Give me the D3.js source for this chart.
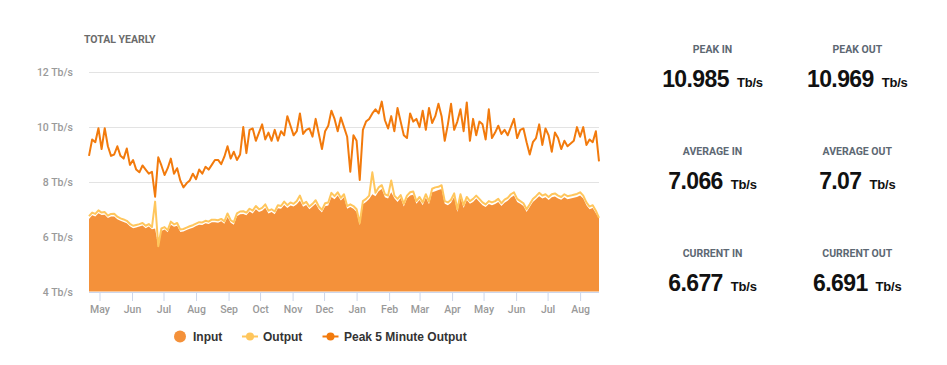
<!DOCTYPE html>
<html><head><meta charset="utf-8">
<script src="https://cdn.jsdelivr.net/npm/d3@7"></script>
<style>body{margin:0;background:#fff}svg{display:block}</style>
</head><body><svg id="c" width="947" height="365"></svg>
<script>
const startDate = "2023-04-21";
const stepDays = 3;
const peakOut = [
8.95,9.55,9.45,9.96,9.2,9.96,9.3,8.95,9.0,9.3,
8.95,8.85,9.22,8.62,8.8,8.45,8.35,8.6,8.45,8.3,
8.37,7.46,8.9,8.6,8.25,8.5,8.85,8.3,8.5,8.05,
7.8,7.95,8.05,8.3,8.1,8.45,8.3,8.55,8.45,8.62,
8.8,8.8,8.65,8.92,9.3,8.85,9.1,8.8,9.0,10.0,
9.05,9.9,9.95,9.5,9.8,10.1,9.55,9.8,9.5,9.9,
9.5,9.85,9.7,10.4,10.05,9.7,9.85,10.5,9.75,9.9,
9.95,9.65,10.3,9.75,9.2,9.85,10.05,10.6,10.3,9.85,
10.35,10.0,9.65,8.37,9.7,9.5,8.07,9.9,10.2,10.3,
10.5,10.65,10.5,10.93,10.25,9.95,10.4,9.85,10.7,10.2,
9.7,9.6,10.5,10.2,10.3,10.0,10.6,9.9,10.7,10.15,
10.4,10.85,10.4,9.5,10.1,10.85,9.9,10.2,10.65,9.85,
10.9,9.5,10.3,9.7,10.2,10.1,9.55,10.65,9.6,9.8,
10.05,9.75,9.9,9.7,10.0,10.3,9.6,9.9,9.95,9.45,
9.0,9.45,9.6,10.1,9.35,9.95,9.7,9.1,9.8,9.6,
9.2,9.5,9.3,9.4,9.5,10.0,9.65,10.0,9.35,9.55,
9.45,9.85,8.75];
const output = [
6.75,6.88,6.83,6.96,6.88,6.90,6.77,6.83,6.84,6.73,
6.67,6.63,6.58,6.47,6.40,6.43,6.46,6.50,6.40,6.46,
6.35,7.28,5.65,6.30,6.35,6.24,6.55,6.45,6.50,6.26,
6.28,6.33,6.38,6.42,6.48,6.53,6.52,6.58,6.55,6.62,
6.62,6.60,6.65,6.56,6.85,6.60,6.53,6.85,6.92,6.93,
6.88,7.02,6.95,7.12,7.00,7.05,7.18,6.95,7.00,6.92,
7.15,7.12,7.28,7.15,7.25,7.20,7.30,7.50,7.20,7.27,
7.10,7.20,7.33,7.10,6.98,7.22,7.25,7.60,7.48,7.62,
7.42,7.55,7.12,7.18,7.12,7.00,6.50,7.30,7.38,7.50,
8.35,7.60,7.80,7.88,7.55,7.50,8.05,7.50,7.38,7.52,
7.20,7.50,7.62,7.65,7.30,7.45,7.25,7.55,7.28,7.75,
7.80,7.82,7.88,7.30,7.25,7.35,7.58,7.00,7.55,7.15,
7.45,7.30,7.38,7.50,7.38,7.25,7.18,7.30,7.25,7.30,
7.38,7.22,7.35,7.42,7.55,7.62,7.38,7.30,7.22,7.00,
7.18,7.38,7.48,7.60,7.50,7.55,7.45,7.55,7.58,7.50,
7.45,7.55,7.48,7.50,7.53,7.56,7.62,7.50,7.25,7.10,
7.15,6.95,6.69];
const input = [
6.65,6.78,6.74,6.86,6.79,6.80,6.68,6.74,6.74,6.64,
6.58,6.54,6.49,6.38,6.31,6.34,6.37,6.41,6.31,6.37,
6.27,6.30,5.62,6.21,6.26,6.16,6.44,6.36,6.40,6.17,
6.19,6.24,6.29,6.33,6.39,6.44,6.43,6.49,6.46,6.53,
6.53,6.51,6.56,6.47,6.72,6.51,6.44,6.75,6.82,6.83,
6.78,6.92,6.85,7.00,6.90,6.95,7.06,6.85,6.90,6.82,
7.04,7.02,7.16,7.05,7.14,7.10,7.18,7.32,7.09,7.16,
7.00,7.10,7.20,7.00,6.88,7.11,7.14,7.45,7.37,7.50,
7.32,7.44,7.02,7.08,7.02,6.90,6.42,7.18,7.27,7.38,
7.55,7.48,7.66,7.74,7.44,7.39,7.62,7.40,7.27,7.41,
7.10,7.39,7.50,7.53,7.20,7.34,7.15,7.43,7.18,7.62,
7.66,7.70,7.74,7.20,7.15,7.24,7.46,6.90,7.43,7.05,
7.34,7.20,7.27,7.39,7.27,7.15,7.08,7.19,7.15,7.19,
7.27,7.12,7.24,7.31,7.43,7.50,7.27,7.20,7.12,6.90,
7.08,7.27,7.37,7.48,7.39,7.44,7.34,7.44,7.47,7.39,
7.35,7.44,7.37,7.39,7.42,7.45,7.50,7.39,7.15,7.00,
7.05,6.86,6.68];
const yTicks = [4, 6, 8, 10, 12];
const monthTicks = ["2023-05-01","2023-06-01","2023-07-01","2023-08-01","2023-09-01","2023-10-01","2023-11-01","2023-12-01","2024-01-01","2024-02-01","2024-03-01","2024-04-01","2024-05-01","2024-06-01","2024-07-01","2024-08-01"];
const chartTitle = "TOTAL YEARLY";
const legendItems = ["Input", "Output", "Peak 5 Minute Output"];
const statLabels = ["PEAK IN", "PEAK OUT", "AVERAGE IN", "AVERAGE OUT", "CURRENT IN", "CURRENT OUT"];
const statValues = ["10.985", "10.969", "7.066", "7.07", "6.677", "6.691"];
const statUnit = "Tb/s";

const C_IN = "#f4913a", C_OUT = "#ffc65c", C_PEAK = "#f27a0c";
const svg = d3.select("#c");
const parse = d3.utcParse("%Y-%m-%d");
const t0 = parse(startDate);
const dates = input.map((_, i) => d3.utcDay.offset(t0, i * stepDays));

const x = d3.scaleUtc().domain([dates[0], dates[dates.length - 1]]).range([89, 599]);
const y = d3.scaleLinear().domain([4, 12]).range([291.5, 72.3]);

// title
svg.append("text").attr("x", 84).attr("y", 43).text(chartTitle)
  .attr("font-family", "Roboto, sans-serif").attr("font-weight", 700).attr("font-size", 10.5)
  .attr("fill", "#6b6b6b");

// gridlines
svg.append("g").selectAll("line").data(yTicks.filter(d => d > 4)).join("line")
  .attr("x1", 89).attr("x2", 599).attr("y1", d => Math.round(y(d)) + 0.5).attr("y2", d => Math.round(y(d)) + 0.5)
  .attr("stroke", "#e3e3e3").attr("stroke-width", 1);

// y labels
svg.append("g").selectAll("text").data(yTicks).join("text")
  .attr("x", 73).attr("y", d => y(d) + 4).attr("text-anchor", "end")
  .attr("font-family", "Roboto, sans-serif").attr("font-weight", 500).attr("font-size", 10.5)
  .attr("fill", "#9a9a9a").text(d => d + " Tb/s");

// input area
svg.append("path").datum(input)
  .attr("d", d3.area().x((d, i) => x(dates[i])).y0(y(4)).y1(d => y(d)))
  .attr("fill", C_IN);

// output line
svg.append("path").datum(output)
  .attr("d", d3.line().x((d, i) => x(dates[i])).y(d => y(d)))
  .attr("fill", "none").attr("stroke", C_OUT).attr("stroke-width", 2).attr("stroke-linejoin", "round");

// peak line
svg.append("path").datum(peakOut)
  .attr("d", d3.line().x((d, i) => x(dates[i])).y(d => y(d)))
  .attr("fill", "none").attr("stroke", C_PEAK).attr("stroke-width", 2).attr("stroke-linejoin", "round");

// x axis
const xAxis = d3.axisBottom(x).tickValues(monthTicks.map(parse)).tickFormat(d3.utcFormat("%b"))
  .tickSize(9).tickSizeOuter(0).tickPadding(5);
const gx = svg.append("g").attr("transform", "translate(0,292)").call(xAxis);
gx.select(".domain").attr("stroke", "#ccd6eb").attr("d", "M89,0.5H599");
gx.selectAll(".tick line").attr("stroke", "#ccd6eb");
gx.selectAll(".tick text").attr("fill", "#9a9a9a").attr("font-family", "Roboto, sans-serif")
  .attr("font-weight", 500).attr("font-size", 10.5);

// legend
const lg = svg.append("g").attr("font-family", "'Liberation Sans', Arial, sans-serif").attr("font-weight", 700).attr("font-size", 12).attr("fill", "#333");
lg.append("circle").attr("cx", 180).attr("cy", 336.5).attr("r", 6).attr("fill", C_IN);
lg.append("text").attr("x", 193).attr("y", 341).text(legendItems[0]);
lg.append("line").attr("x1", 242).attr("x2", 258).attr("y1", 336.5).attr("y2", 336.5).attr("stroke", C_OUT).attr("stroke-width", 2);
lg.append("circle").attr("cx", 250).attr("cy", 336.5).attr("r", 4).attr("fill", C_OUT);
lg.append("text").attr("x", 263).attr("y", 341).text(legendItems[1]);
lg.append("line").attr("x1", 322.5).attr("x2", 338.5).attr("y1", 336.5).attr("y2", 336.5).attr("stroke", C_PEAK).attr("stroke-width", 2);
lg.append("circle").attr("cx", 330.5).attr("cy", 336.5).attr("r", 4).attr("fill", C_PEAK);
lg.append("text").attr("x", 344).attr("y", 341).text(legendItems[2]);

// stats
const colX = [712.5, 857.3];
const labY = [53, 155, 257];
const numY = [86.7, 189.3, 290.7];
statLabels.forEach((lab, k) => {
  const col = k % 2, row = Math.floor(k / 2);
  svg.append("text").attr("x", colX[col]).attr("y", labY[row]).attr("text-anchor", "middle")
    .attr("font-family", "Roboto, sans-serif").attr("font-weight", 700).attr("font-size", 10.5)
    .attr("fill", "#5d6873").text(lab);
  const t = svg.append("text").attr("x", colX[col]).attr("y", numY[row]).attr("text-anchor", "middle")
    .attr("font-family", "'Liberation Sans', Arial, sans-serif").attr("font-weight", 700).attr("fill", "#111");
  t.append("tspan").attr("font-size", 23).attr("letter-spacing", -0.6).text(statValues[k]);
  t.append("tspan").attr("font-size", 13).attr("dx", 8).attr("letter-spacing", -0.2).text(statUnit);
});
</script></body></html>
